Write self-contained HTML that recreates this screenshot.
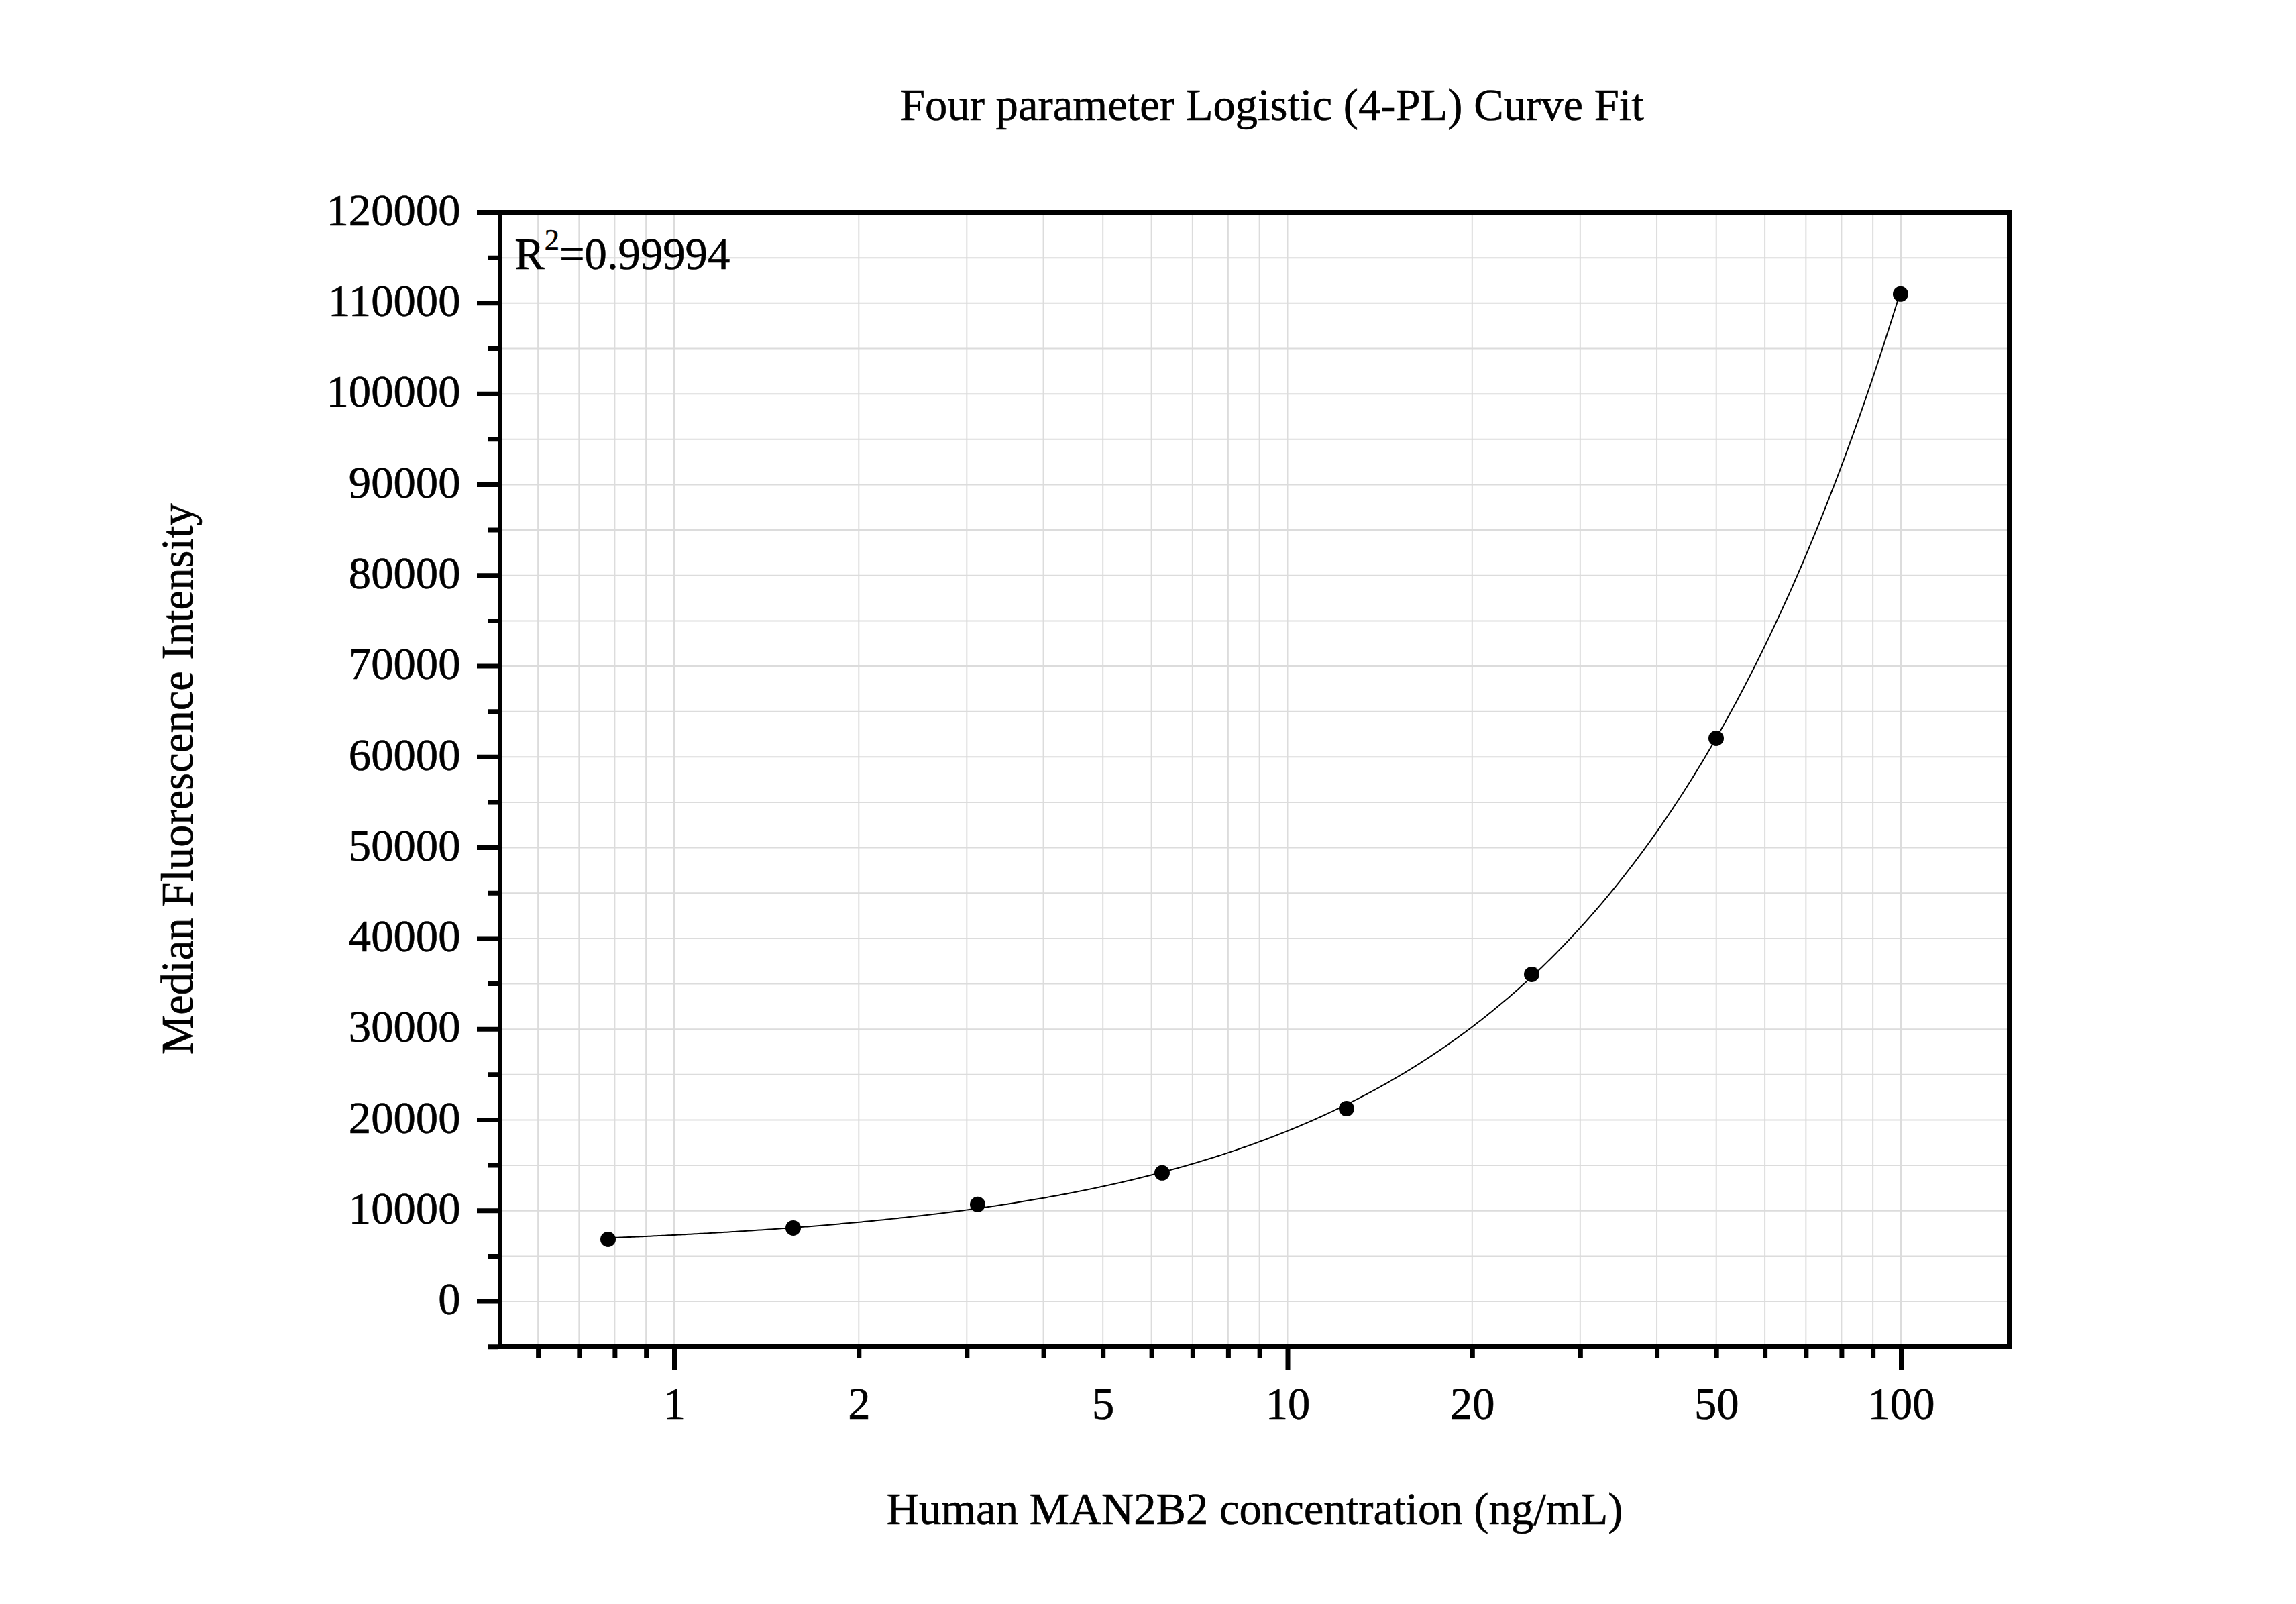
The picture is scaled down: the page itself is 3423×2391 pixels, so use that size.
<!DOCTYPE html><html><head><meta charset="utf-8"><style>html,body{margin:0;padding:0;background:#fff;overflow:hidden}svg{display:block}text{font-family:"Liberation Serif",serif;fill:#000;stroke:#000;stroke-width:0.6px}</style></head><body>
<svg width="3423" height="2391" viewBox="0 0 3423 2391">
<rect x="0" y="0" width="3423" height="2391" fill="#fff"/>
<path d="M749 1940.05H2992 M749 1872.40H2992 M749 1804.76H2992 M749 1737.12H2992 M749 1669.47H2992 M749 1601.83H2992 M749 1534.18H2992 M749 1466.53H2992 M749 1398.89H2992 M749 1331.24H2992 M749 1263.60H2992 M749 1195.95H2992 M749 1128.31H2992 M749 1060.66H2992 M749 993.02H2992 M749 925.38H2992 M749 857.73H2992 M749 790.09H2992 M749 722.44H2992 M749 654.80H2992 M749 587.15H2992 M749 519.51H2992 M749 451.86H2992 M749 384.21H2992 M802.12 320V2004 M863.34 320V2004 M916.38 320V2004 M963.15 320V2004 M1005.00 320V2004 M1280.29 320V2004 M1441.33 320V2004 M1555.58 320V2004 M1644.21 320V2004 M1716.62 320V2004 M1777.84 320V2004 M1830.88 320V2004 M1877.65 320V2004 M1919.50 320V2004 M2194.79 320V2004 M2355.83 320V2004 M2470.08 320V2004 M2558.71 320V2004 M2631.12 320V2004 M2692.34 320V2004 M2745.38 320V2004 M2792.15 320V2004 M2834.00 320V2004" stroke="#dcdcdc" stroke-width="2" fill="none"/>
<path d="M742 313H2999V320H742Z M742 2004H2999V2011H742Z M742 313H749V2011H742Z M2992 313H2999V2011H2992Z M711 1936.55H742V1943.55H711Z M711 1801.26H742V1808.26H711Z M711 1665.97H742V1672.97H711Z M711 1530.68H742V1537.68H711Z M711 1395.39H742V1402.39H711Z M711 1260.1H742V1267.1H711Z M711 1124.81H742V1131.81H711Z M711 989.52H742V996.52H711Z M711 854.23H742V861.23H711Z M711 718.94H742V725.94H711Z M711 583.65H742V590.65H711Z M711 448.36H742V455.36H711Z M711 313.07H742V320.07H711Z M728 2004.19H742V2011.19H728Z M728 1868.9H742V1875.9H728Z M728 1733.62H742V1740.62H728Z M728 1598.33H742V1605.33H728Z M728 1463.03H742V1470.03H728Z M728 1327.74H742V1334.74H728Z M728 1192.45H742V1199.45H728Z M728 1057.16H742V1064.16H728Z M728 921.88H742V928.88H728Z M728 786.59H742V793.59H728Z M728 651.3H742V658.3H728Z M728 516.01H742V523.01H728Z M728 380.71H742V387.71H728Z M799.12 2011H806.12V2024H799.12Z M860.34 2011H867.34V2024H860.34Z M913.38 2011H920.38V2024H913.38Z M960.15 2011H967.15V2024H960.15Z M1002.0 2011H1009.0V2042H1002.0Z M1277.29 2011H1284.29V2024H1277.29Z M1438.33 2011H1445.33V2024H1438.33Z M1552.58 2011H1559.58V2024H1552.58Z M1641.21 2011H1648.21V2024H1641.21Z M1713.62 2011H1720.62V2024H1713.62Z M1774.84 2011H1781.84V2024H1774.84Z M1827.88 2011H1834.88V2024H1827.88Z M1874.65 2011H1881.65V2024H1874.65Z M1916.5 2011H1923.5V2042H1916.5Z M2191.79 2011H2198.79V2024H2191.79Z M2352.83 2011H2359.83V2024H2352.83Z M2467.08 2011H2474.08V2024H2467.08Z M2555.71 2011H2562.71V2024H2555.71Z M2628.12 2011H2635.12V2024H2628.12Z M2689.34 2011H2696.34V2024H2689.34Z M2742.38 2011H2749.38V2024H2742.38Z M2789.15 2011H2796.15V2024H2789.15Z M2831.0 2011H2838.0V2042H2831.0Z" fill="#000"/>
<polyline points="906.5,1845.35 909.5,1845.23 912.5,1845.11 915.5,1844.99 918.5,1844.87 921.5,1844.74 924.5,1844.62 927.5,1844.49 930.5,1844.37 933.5,1844.24 936.5,1844.11 939.5,1843.98 942.5,1843.85 945.5,1843.72 948.5,1843.59 951.5,1843.46 954.5,1843.33 957.5,1843.19 960.5,1843.06 963.5,1842.92 966.5,1842.78 969.5,1842.65 972.5,1842.51 975.5,1842.37 978.5,1842.23 981.5,1842.09 984.5,1841.94 987.5,1841.80 990.5,1841.65 993.5,1841.51 996.5,1841.36 999.5,1841.21 1002.5,1841.07 1005.5,1840.92 1008.5,1840.77 1011.5,1840.61 1014.5,1840.46 1017.5,1840.31 1020.5,1840.15 1023.5,1840.00 1026.5,1839.84 1029.5,1839.68 1032.5,1839.52 1035.5,1839.36 1038.5,1839.20 1041.5,1839.04 1044.5,1838.87 1047.5,1838.71 1050.5,1838.54 1053.5,1838.38 1056.5,1838.21 1059.5,1838.04 1062.5,1837.87 1065.5,1837.70 1068.5,1837.52 1071.5,1837.35 1074.5,1837.17 1077.5,1837.00 1080.5,1836.82 1083.5,1836.64 1086.5,1836.46 1089.5,1836.28 1092.5,1836.10 1095.5,1835.91 1098.5,1835.73 1101.5,1835.54 1104.5,1835.35 1107.5,1835.17 1110.5,1834.98 1113.5,1834.78 1116.5,1834.59 1119.5,1834.40 1122.5,1834.20 1125.5,1834.00 1128.5,1833.81 1131.5,1833.61 1134.5,1833.41 1137.5,1833.20 1140.5,1833.00 1143.5,1832.79 1146.5,1832.59 1149.5,1832.38 1152.5,1832.17 1155.5,1831.96 1158.5,1831.75 1161.5,1831.53 1164.5,1831.32 1167.5,1831.10 1170.5,1830.88 1173.5,1830.66 1176.5,1830.44 1179.5,1830.22 1182.5,1829.99 1185.5,1829.77 1188.5,1829.54 1191.5,1829.31 1194.5,1829.08 1197.5,1828.85 1200.5,1828.62 1203.5,1828.38 1206.5,1828.14 1209.5,1827.91 1212.5,1827.66 1215.5,1827.42 1218.5,1827.18 1221.5,1826.93 1224.5,1826.69 1227.5,1826.44 1230.5,1826.19 1233.5,1825.94 1236.5,1825.68 1239.5,1825.43 1242.5,1825.17 1245.5,1824.91 1248.5,1824.65 1251.5,1824.39 1254.5,1824.12 1257.5,1823.86 1260.5,1823.59 1263.5,1823.32 1266.5,1823.05 1269.5,1822.77 1272.5,1822.50 1275.5,1822.22 1278.5,1821.94 1281.5,1821.66 1284.5,1821.38 1287.5,1821.09 1290.5,1820.80 1293.5,1820.51 1296.5,1820.22 1299.5,1819.93 1302.5,1819.63 1305.5,1819.34 1308.5,1819.04 1311.5,1818.74 1314.5,1818.43 1317.5,1818.13 1320.5,1817.82 1323.5,1817.51 1326.5,1817.20 1329.5,1816.88 1332.5,1816.57 1335.5,1816.25 1338.5,1815.93 1341.5,1815.61 1344.5,1815.28 1347.5,1814.96 1350.5,1814.63 1353.5,1814.29 1356.5,1813.96 1359.5,1813.62 1362.5,1813.29 1365.5,1812.94 1368.5,1812.60 1371.5,1812.26 1374.5,1811.91 1377.5,1811.56 1380.5,1811.20 1383.5,1810.85 1386.5,1810.49 1389.5,1810.13 1392.5,1809.77 1395.5,1809.40 1398.5,1809.04 1401.5,1808.67 1404.5,1808.29 1407.5,1807.92 1410.5,1807.54 1413.5,1807.16 1416.5,1806.78 1419.5,1806.39 1422.5,1806.00 1425.5,1805.61 1428.5,1805.22 1431.5,1804.82 1434.5,1804.42 1437.5,1804.02 1440.5,1803.62 1443.5,1803.21 1446.5,1802.80 1449.5,1802.39 1452.5,1801.97 1455.5,1801.55 1458.5,1801.13 1461.5,1800.70 1464.5,1800.28 1467.5,1799.85 1470.5,1799.41 1473.5,1798.98 1476.5,1798.54 1479.5,1798.10 1482.5,1797.65 1485.5,1797.20 1488.5,1796.75 1491.5,1796.30 1494.5,1795.84 1497.5,1795.38 1500.5,1794.91 1503.5,1794.44 1506.5,1793.97 1509.5,1793.50 1512.5,1793.02 1515.5,1792.54 1518.5,1792.06 1521.5,1791.57 1524.5,1791.08 1527.5,1790.59 1530.5,1790.09 1533.5,1789.59 1536.5,1789.09 1539.5,1788.58 1542.5,1788.07 1545.5,1787.55 1548.5,1787.04 1551.5,1786.51 1554.5,1785.99 1557.5,1785.46 1560.5,1784.93 1563.5,1784.39 1566.5,1783.85 1569.5,1783.31 1572.5,1782.76 1575.5,1782.21 1578.5,1781.66 1581.5,1781.10 1584.5,1780.53 1587.5,1779.97 1590.5,1779.40 1593.5,1778.82 1596.5,1778.25 1599.5,1777.66 1602.5,1777.08 1605.5,1776.49 1608.5,1775.89 1611.5,1775.30 1614.5,1774.69 1617.5,1774.09 1620.5,1773.48 1623.5,1772.86 1626.5,1772.24 1629.5,1771.62 1632.5,1770.99 1635.5,1770.36 1638.5,1769.72 1641.5,1769.08 1644.5,1768.44 1647.5,1767.79 1650.5,1767.13 1653.5,1766.47 1656.5,1765.81 1659.5,1765.14 1662.5,1764.47 1665.5,1763.79 1668.5,1763.11 1671.5,1762.43 1674.5,1761.74 1677.5,1761.04 1680.5,1760.34 1683.5,1759.63 1686.5,1758.92 1689.5,1758.21 1692.5,1757.49 1695.5,1756.76 1698.5,1756.03 1701.5,1755.30 1704.5,1754.56 1707.5,1753.81 1710.5,1753.06 1713.5,1752.31 1716.5,1751.55 1719.5,1750.78 1722.5,1750.01 1725.5,1749.24 1728.5,1748.45 1731.5,1747.67 1734.5,1746.87 1737.5,1746.08 1740.5,1745.27 1743.5,1744.46 1746.5,1743.65 1749.5,1742.83 1752.5,1742.00 1755.5,1741.17 1758.5,1740.33 1761.5,1739.49 1764.5,1738.64 1767.5,1737.79 1770.5,1736.93 1773.5,1736.06 1776.5,1735.19 1779.5,1734.31 1782.5,1733.43 1785.5,1732.53 1788.5,1731.64 1791.5,1730.74 1794.5,1729.83 1797.5,1728.91 1800.5,1727.99 1803.5,1727.06 1806.5,1726.13 1809.5,1725.19 1812.5,1724.24 1815.5,1723.29 1818.5,1722.33 1821.5,1721.36 1824.5,1720.38 1827.5,1719.40 1830.5,1718.42 1833.5,1717.42 1836.5,1716.42 1839.5,1715.42 1842.5,1714.40 1845.5,1713.38 1848.5,1712.35 1851.5,1711.32 1854.5,1710.27 1857.5,1709.22 1860.5,1708.17 1863.5,1707.10 1866.5,1706.03 1869.5,1704.95 1872.5,1703.86 1875.5,1702.77 1878.5,1701.67 1881.5,1700.56 1884.5,1699.44 1887.5,1698.32 1890.5,1697.19 1893.5,1696.05 1896.5,1694.90 1899.5,1693.74 1902.5,1692.58 1905.5,1691.41 1908.5,1690.23 1911.5,1689.04 1914.5,1687.85 1917.5,1686.64 1920.5,1685.43 1923.5,1684.21 1926.5,1682.98 1929.5,1681.74 1932.5,1680.49 1935.5,1679.24 1938.5,1677.98 1941.5,1676.70 1944.5,1675.42 1947.5,1674.13 1950.5,1672.84 1953.5,1671.53 1956.5,1670.21 1959.5,1668.89 1962.5,1667.55 1965.5,1666.21 1968.5,1664.85 1971.5,1663.49 1974.5,1662.12 1977.5,1660.74 1980.5,1659.35 1983.5,1657.95 1986.5,1656.54 1989.5,1655.12 1992.5,1653.69 1995.5,1652.25 1998.5,1650.80 2001.5,1649.34 2004.5,1647.87 2007.5,1646.39 2010.5,1644.90 2013.5,1643.40 2016.5,1641.89 2019.5,1640.37 2022.5,1638.84 2025.5,1637.30 2028.5,1635.75 2031.5,1634.19 2034.5,1632.61 2037.5,1631.03 2040.5,1629.43 2043.5,1627.83 2046.5,1626.21 2049.5,1624.58 2052.5,1622.94 2055.5,1621.29 2058.5,1619.63 2061.5,1617.96 2064.5,1616.27 2067.5,1614.58 2070.5,1612.87 2073.5,1611.15 2076.5,1609.42 2079.5,1607.67 2082.5,1605.92 2085.5,1604.15 2088.5,1602.37 2091.5,1600.58 2094.5,1598.77 2097.5,1596.95 2100.5,1595.12 2103.5,1593.28 2106.5,1591.43 2109.5,1589.56 2112.5,1587.68 2115.5,1585.79 2118.5,1583.88 2121.5,1581.96 2124.5,1580.03 2127.5,1578.08 2130.5,1576.12 2133.5,1574.15 2136.5,1572.16 2139.5,1570.16 2142.5,1568.15 2145.5,1566.12 2148.5,1564.08 2151.5,1562.02 2154.5,1559.96 2157.5,1557.87 2160.5,1555.77 2163.5,1553.66 2166.5,1551.53 2169.5,1549.39 2172.5,1547.23 2175.5,1545.06 2178.5,1542.88 2181.5,1540.67 2184.5,1538.46 2187.5,1536.23 2190.5,1533.98 2193.5,1531.72 2196.5,1529.44 2199.5,1527.14 2202.5,1524.83 2205.5,1522.51 2208.5,1520.17 2211.5,1517.81 2214.5,1515.43 2217.5,1513.04 2220.5,1510.64 2223.5,1508.21 2226.5,1505.77 2229.5,1503.32 2232.5,1500.84 2235.5,1498.35 2238.5,1495.85 2241.5,1493.32 2244.5,1490.78 2247.5,1488.22 2250.5,1485.64 2253.5,1483.05 2256.5,1480.43 2259.5,1477.80 2262.5,1475.15 2265.5,1472.49 2268.5,1469.80 2271.5,1467.10 2274.5,1464.37 2277.5,1461.63 2280.5,1458.87 2283.5,1456.09 2286.5,1453.29 2289.5,1450.48 2292.5,1447.64 2295.5,1444.78 2298.5,1441.91 2301.5,1439.01 2304.5,1436.10 2307.5,1433.16 2310.5,1430.20 2313.5,1427.23 2316.5,1424.23 2319.5,1421.21 2322.5,1418.17 2325.5,1415.11 2328.5,1412.03 2331.5,1408.93 2334.5,1405.81 2337.5,1402.67 2340.5,1399.50 2343.5,1396.31 2346.5,1393.10 2349.5,1389.87 2352.5,1386.62 2355.5,1383.34 2358.5,1380.04 2361.5,1376.72 2364.5,1373.38 2367.5,1370.01 2370.5,1366.62 2373.5,1363.21 2376.5,1359.77 2379.5,1356.31 2382.5,1352.83 2385.5,1349.32 2388.5,1345.78 2391.5,1342.23 2394.5,1338.65 2397.5,1335.04 2400.5,1331.41 2403.5,1327.75 2406.5,1324.07 2409.5,1320.37 2412.5,1316.64 2415.5,1312.88 2418.5,1309.10 2421.5,1305.29 2424.5,1301.45 2427.5,1297.59 2430.5,1293.70 2433.5,1289.79 2436.5,1285.84 2439.5,1281.88 2442.5,1277.88 2445.5,1273.86 2448.5,1269.80 2451.5,1265.73 2454.5,1261.62 2457.5,1257.48 2460.5,1253.32 2463.5,1249.13 2466.5,1244.91 2469.5,1240.66 2472.5,1236.38 2475.5,1232.07 2478.5,1227.73 2481.5,1223.36 2484.5,1218.96 2487.5,1214.53 2490.5,1210.07 2493.5,1205.58 2496.5,1201.06 2499.5,1196.51 2502.5,1191.93 2505.5,1187.32 2508.5,1182.67 2511.5,1177.99 2514.5,1173.28 2517.5,1168.54 2520.5,1163.76 2523.5,1158.96 2526.5,1154.11 2529.5,1149.24 2532.5,1144.33 2535.5,1139.39 2538.5,1134.42 2541.5,1129.41 2544.5,1124.36 2547.5,1119.28 2550.5,1114.17 2553.5,1109.02 2556.5,1103.84 2559.5,1098.62 2562.5,1093.36 2565.5,1088.07 2568.5,1082.74 2571.5,1077.38 2574.5,1071.98 2577.5,1066.54 2580.5,1061.06 2583.5,1055.55 2586.5,1050.00 2589.5,1044.41 2592.5,1038.78 2595.5,1033.11 2598.5,1027.41 2601.5,1021.66 2604.5,1015.88 2607.5,1010.06 2610.5,1004.19 2613.5,998.29 2616.5,992.34 2619.5,986.36 2622.5,980.33 2625.5,974.26 2628.5,968.15 2631.5,962.00 2634.5,955.81 2637.5,949.57 2640.5,943.29 2643.5,936.97 2646.5,930.60 2649.5,924.19 2652.5,917.74 2655.5,911.24 2658.5,904.70 2661.5,898.11 2664.5,891.48 2667.5,884.80 2670.5,878.08 2673.5,871.31 2676.5,864.49 2679.5,857.63 2682.5,850.72 2685.5,843.76 2688.5,836.75 2691.5,829.70 2694.5,822.60 2697.5,815.44 2700.5,808.24 2703.5,800.99 2706.5,793.70 2709.5,786.35 2712.5,778.95 2715.5,771.49 2718.5,763.99 2721.5,756.44 2724.5,748.83 2727.5,741.18 2730.5,733.47 2733.5,725.70 2736.5,717.89 2739.5,710.02 2742.5,702.09 2745.5,694.11 2748.5,686.08 2751.5,677.99 2754.5,669.85 2757.5,661.65 2760.5,653.39 2763.5,645.08 2766.5,636.71 2769.5,628.29 2772.5,619.80 2775.5,611.26 2778.5,602.66 2781.5,593.99 2784.5,585.27 2787.5,576.49 2790.5,567.65 2793.5,558.75 2796.5,549.79 2799.5,540.77 2802.5,531.68 2805.5,522.54 2808.5,513.33 2811.5,504.05 2814.5,494.71 2817.5,485.31 2820.5,475.85 2823.5,466.32 2826.5,456.72 2829.5,447.06 2832.5,437.33 2833.5,430.81" stroke="#000" stroke-width="2" fill="none" stroke-linejoin="round"/>
<circle cx="906.5" cy="1847.4" r="11.5" fill="#000"/>
<circle cx="1182.5" cy="1830.4" r="11.5" fill="#000"/>
<circle cx="1457.5" cy="1795.3" r="11.5" fill="#000"/>
<circle cx="1732.5" cy="1748.3" r="11.5" fill="#000"/>
<circle cx="2007.5" cy="1652.5" r="11.5" fill="#000"/>
<circle cx="2283.5" cy="1452.4" r="11.5" fill="#000"/>
<circle cx="2558.5" cy="1100.4" r="11.5" fill="#000"/>
<circle cx="2833.5" cy="438.3" r="11.5" fill="#000"/>
<text x="686.5" y="1959.25" font-size="66.67" text-anchor="end">0</text>
<text x="686.5" y="1823.96" font-size="66.67" text-anchor="end">10000</text>
<text x="686.5" y="1688.67" font-size="66.67" text-anchor="end">20000</text>
<text x="686.5" y="1553.38" font-size="66.67" text-anchor="end">30000</text>
<text x="686.5" y="1418.09" font-size="66.67" text-anchor="end">40000</text>
<text x="686.5" y="1282.80" font-size="66.67" text-anchor="end">50000</text>
<text x="686.5" y="1147.51" font-size="66.67" text-anchor="end">60000</text>
<text x="686.5" y="1012.22" font-size="66.67" text-anchor="end">70000</text>
<text x="686.5" y="876.93" font-size="66.67" text-anchor="end">80000</text>
<text x="686.5" y="741.64" font-size="66.67" text-anchor="end">90000</text>
<text x="686.5" y="606.35" font-size="66.67" text-anchor="end">100000</text>
<text x="686.5" y="471.06" font-size="66.67" text-anchor="end">110000</text>
<text x="686.5" y="335.77" font-size="66.67" text-anchor="end">120000</text>
<text x="1005.50" y="2115" font-size="66.67" text-anchor="middle">1</text>
<text x="1280.79" y="2115" font-size="66.67" text-anchor="middle">2</text>
<text x="1644.71" y="2115" font-size="66.67" text-anchor="middle">5</text>
<text x="1920.00" y="2115" font-size="66.67" text-anchor="middle">10</text>
<text x="2195.29" y="2115" font-size="66.67" text-anchor="middle">20</text>
<text x="2559.21" y="2115" font-size="66.67" text-anchor="middle">50</text>
<text x="2834.50" y="2115" font-size="66.67" text-anchor="middle">100</text>
<text x="1342" y="179" font-size="66.67">Four parameter Logistic (4-PL) Curve Fit</text>
<text x="1321.75" y="2272" font-size="66.67">Human MAN2B2 concentration (ng/mL)</text>
<text transform="translate(286.5 1572) rotate(-90)" x="0" y="0" font-size="66.67">Median Fluorescence Intensity</text>
<text x="767.3" y="401" font-size="66.67">R</text>
<text x="811.8" y="372" font-size="44.44">2</text>
<text x="834" y="401" font-size="66.67">=0.99994</text>
</svg></body></html>
